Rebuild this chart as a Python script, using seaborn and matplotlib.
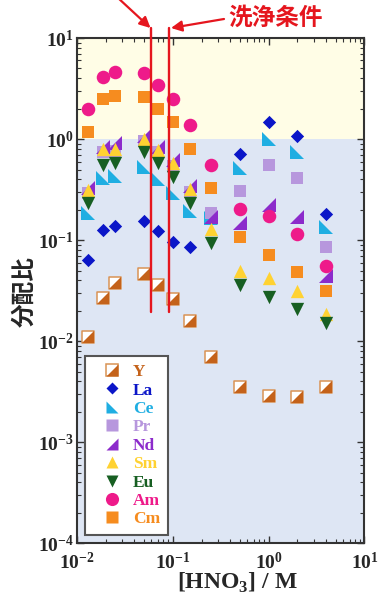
import math
import matplotlib
matplotlib.use("Agg")
import matplotlib.pyplot as plt
import pandas as pd
import seaborn as sns
from matplotlib.lines import Line2D
from matplotlib.legend_handler import HandlerTuple
from matplotlib.ticker import FixedLocator, FuncFormatter, LogLocator, NullFormatter

# [HNO3] / M
hno3 = [0.013, 0.019, 0.025, 0.05, 0.07, 0.1, 0.15, 0.25, 0.5, 1.0, 2.0, 4.0]

# distribution ratios
d_Y = [0.011, 0.027, 0.038, 0.046, 0.036, 0.026, 0.016, 0.0070, 0.0035, 0.0029, 0.0028, 0.0035]
d_La = [0.063, 0.126, 0.139, 0.155, 0.123, 0.096, 0.086, 0.165, 0.72, 1.48, 1.08, 0.18]
d_Ce = [0.184, 0.414, 0.43, 0.532, 0.402, 0.296, 0.194, 0.165, 0.513, 1.0, 0.75, 0.135]
d_Pr = [0.29, 0.75, 0.76, 0.95, 0.74, 0.54, 0.30, 0.184, 0.305, 0.56, 0.408, 0.086]
d_Nd = [0.33, 0.84, 0.906, 1.07, 0.84, 0.62, 0.343, 0.168, 0.149, 0.225, 0.170, 0.0444]
d_Sm = [0.31, 0.79, 0.80, 1.0, 0.78, 0.574, 0.318, 0.128, 0.0493, 0.0424, 0.0313, 0.0188]
d_Eu = [0.231, 0.553, 0.584, 0.75, 0.574, 0.417, 0.234, 0.094, 0.0364, 0.0275, 0.021, 0.015]
d_Am = [2.0, 4.1, 4.6, 4.5, 3.4, 2.5, 1.38, 0.553, 0.203, 0.174, 0.116, 0.0557]
d_Cm = [1.18, 2.47, 2.67, 2.59, 1.98, 1.48, 0.796, 0.325, 0.108, 0.071, 0.0485, 0.0313]

elements = ["Y", "La", "Ce", "Pr", "Nd", "Sm", "Eu", "Am", "Cm"]
values = [d_Y, d_La, d_Ce, d_Pr, d_Nd, d_Sm, d_Eu, d_Am, d_Cm]

# washing conditions marked by vertical lines
wash_hno3 = [0.059, 0.0925]
wash_span = [0.0194, 12.6]

tick_vals_x = [1e-2, 1e-1, 1e0, 1e1]
tick_vals_y = [1e-4, 1e-3, 1e-2, 1e-1, 1e0, 1e1]

df = pd.DataFrame(
    [(el, x, v) for el, vals in zip(elements, values) for x, v in zip(hno3, vals)],
    columns=["element", "HNO3", "D"],
)

tri_bl = [(-1, 1), (-1, -1), (1, -1)]   # right angle at lower left
tri_br = [(1, 1), (1, -1), (-1, -1)]    # right angle at lower right

style = {
    "La": dict(marker="D", color="#0B16C8", s=46),
    "Ce": dict(marker=tri_bl, color="#1FAEE2", s=92),
    "Pr": dict(marker="s", color="#B797DD", s=76),
    "Nd": dict(marker=tri_br, color="#8C2BCB", s=92),
    "Sm": dict(marker="^", color="#FFD232", s=92),
    "Eu": dict(marker="v", color="#175F22", s=92),
    "Am": dict(marker="o", color="#EE1A8A", s=95),
    "Cm": dict(marker="s", color="#F68C1F", s=76),
}
y_edge = "#D99355"
y_fill = "#C4621A"
red = "#E5161E"

sns.set_theme(style="ticks")
plt.rcParams.update({
    "mathtext.fontset": "custom",
    "mathtext.rm": "Liberation Serif",
    "mathtext.bf": "Liberation Serif:bold",
    "axes.edgecolor": "#333333",
    "axes.linewidth": 1.5,
    "xtick.direction": "in",
    "ytick.direction": "in",
    "xtick.top": True,
    "ytick.right": True,
})
plt.rcParams["font.family"] = ["Liberation Serif", "Noto Sans CJK JP"]

fig = plt.figure(figsize=(3.8, 5.97), dpi=100)
ax = fig.add_axes([0.2018, 0.0899, 0.7574, 0.8464])
ax.set_xscale("log")
ax.set_yscale("log")
ax.set_xlim(1e-2, 1e1)
ax.set_ylim(1e-4, 1e1)

ax.axhspan(1, 10, color="#FFFDE6", zorder=0, lw=0)
ax.axhspan(1e-4, 1, color="#DEE6F4", zorder=0, lw=0)

# Y: split square (white / brown)
sub = df[df.element == "Y"]
sns.scatterplot(data=sub, x="HNO3", y="D", marker="s", s=84, facecolor="white",
                edgecolor=y_edge, linewidth=1.1, ax=ax, zorder=3, legend=False)
sns.scatterplot(data=sub, x="HNO3", y="D", marker=tri_br, s=80, color=y_fill,
                linewidth=0, ax=ax, zorder=3, legend=False)

for el in elements[1:]:
    sub = df[df.element == el]
    st = style[el]
    sns.scatterplot(data=sub, x="HNO3", y="D", marker=st["marker"], s=st["s"],
                    color=st["color"], linewidth=0, ax=ax, zorder=3, legend=False)

for xv in wash_hno3:
    ax.plot([xv, xv], wash_span, color=red, lw=1.7, clip_on=False, zorder=6)

ax.xaxis.set_major_locator(FixedLocator(tick_vals_x))
ax.yaxis.set_major_locator(FixedLocator(tick_vals_y))
ax.xaxis.set_minor_locator(LogLocator(base=10, subs=range(2, 10), numticks=20))
ax.yaxis.set_minor_locator(LogLocator(base=10, subs=range(2, 10), numticks=20))
ax.xaxis.set_minor_formatter(NullFormatter())
ax.yaxis.set_minor_formatter(NullFormatter())


def pow_label(v, pos):
    exp = int(round(math.log10(v)))
    return r"$\mathbf{10^{%d}}$" % exp


ax.xaxis.set_major_formatter(FuncFormatter(pow_label))
ax.yaxis.set_major_formatter(FuncFormatter(pow_label))
ax.tick_params(which="major", length=5, width=1.0, color="#333333", labelsize=14)
ax.tick_params(which="minor", length=3, width=0.8, color="#333333")
ax.tick_params(axis="x", pad=6)
ax.tick_params(axis="y", pad=2)
ax.set_xlabel("")
ax.set_ylabel("")

# legend
handles = [(Line2D([], [], ls="none", marker="s", ms=9.2, mfc="white", mec=y_edge, mew=1.1),
            Line2D([], [], ls="none", marker=tri_br, ms=8.9, mfc=y_fill, mec="none"))]
for el in elements[1:]:
    st = style[el]
    ms = (st["s"] ** 0.5) * 0.97
    handles.append(Line2D([], [], ls="none", marker=st["marker"], ms=ms,
                          mfc=st["color"], mec="none"))
label_colors = [y_fill] + [style[el]["color"] for el in elements[1:]]
leg = ax.legend(handles, elements, loc="lower left", bbox_to_anchor=(0.029, 0.016),
                handler_map={tuple: HandlerTuple(ndivide=1)},
                frameon=True, fancybox=False, framealpha=1, facecolor="white",
                edgecolor="#555555", labelcolor=label_colors,
                prop={"family": "Liberation Serif", "weight": "bold", "size": 12.5},
                labelspacing=0.13, handlelength=2.2, handletextpad=0.1,
                borderpad=0.45, borderaxespad=0)
leg.get_frame().set_linewidth(1.5)
leg.set_zorder(7)

# axis titles
fig.text(24 / 380, 1 - 292 / 597, "分配比", rotation=90, ha="center", va="center",
         fontsize=17, fontweight="bold", family=["Noto Sans CJK JP"])
fig.text(237 / 380, 1 - 589 / 597, r"[HNO$_{\mathbf{3}}$] / M", ha="center", va="baseline",
         fontsize=17, fontweight="bold", family=["Liberation Serif"])

# annotation for washing conditions
fig.text(276 / 380, 1 - 18 / 597, "洗浄条件", ha="center", va="center", color=red,
         fontsize=17, fontweight="bold", family=["Noto Sans CJK JP"])
arrow = dict(arrowstyle="-|>", color=red, lw=1.6, mutation_scale=16, shrinkA=0, shrinkB=0)
ax.annotate("", xy=(150.5 / 380, 1 - 28 / 597), xytext=(117 / 380, 1 + 3 / 597),
            xycoords="figure fraction", textcoords="figure fraction",
            arrowprops=arrow, annotation_clip=False)
ax.annotate("", xy=(171 / 380, 1 - 28 / 597), xytext=(224 / 380, 1 - 19 / 597),
            xycoords="figure fraction", textcoords="figure fraction",
            arrowprops=arrow, annotation_clip=False)

fig.savefig("out.png", dpi=100, facecolor="white")
